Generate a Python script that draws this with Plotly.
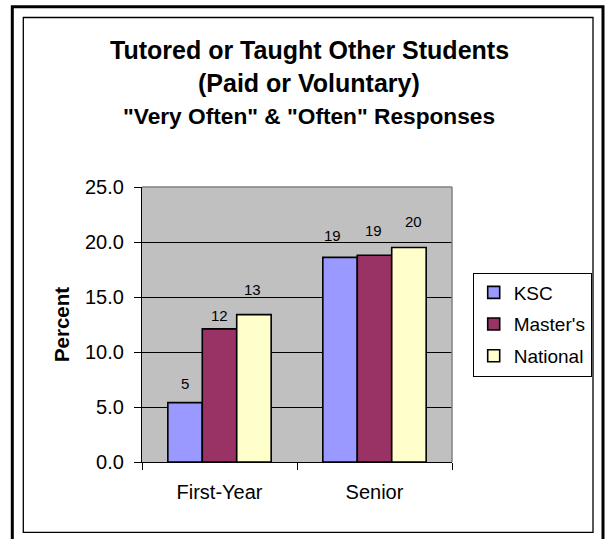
import plotly.graph_objects as go

# ---- data ----
categories = ["First-Year", "Senior"]
series_names = ["KSC", "Master's", "National"]
ksc = [5.4, 18.6]
masters = [12.1, 18.8]
national = [13.4, 19.5]
y_ticks = [0, 5, 10, 15, 20, 25]

# ---- style ----
colors = ["#9999FF", "#993366", "#FFFFCC"]
FONT = "Liberation Sans, Arial, sans-serif"
W, H = 615, 539
ML, MR, MT, MB = 142, 163, 187, 77
PW, PH = W - ML - MR, H - MT - MB
BARGAP = 1 / 3

def px_x(p):
    return (p - ML) / PW

def px_y(p):
    return (H - MB - p) / PH

fig = go.Figure()
for i, (name, vals) in enumerate(zip(series_names, [ksc, masters, national])):
    fig.add_trace(go.Bar(
        x=categories, y=vals, name=name,
        marker=dict(color=colors[i], line=dict(color="black", width=1.6)),
        legendgroup=name,
    ))

# data labels (hand-placed offsets as in the original chart)
label_yshift = [[19, 21.7], [13, 25], [25, 25.6]]
label_xshift = [[-0.4, -7.5], [0.4, -1.3], [-1.8, 4.7]]
bar_px = PW / len(categories) * (1 - BARGAP) / len(series_names)
annotations = []
for i, vals in enumerate([ksc, masters, national]):
    for j, v in enumerate(vals):
        annotations.append(dict(
            x=categories[j], y=v, xref="x", yref="y",
            text=f"{v:.0f}", showarrow=False,
            xshift=(i - 1) * bar_px + label_xshift[i][j],
            yshift=label_yshift[i][j], yanchor="middle",
            font=dict(family=FONT, size=15, color="black"),
        ))

# title lines
title_lines = [("Tutored or Taught Other Students", 25, 50),
               ("(Paid or Voluntary)", 25, 83.5),
               ("\"Very Often\" & \"Often\" Responses", 22.7, 115.5)]
for txt, sz, cy in title_lines:
    annotations.append(dict(
        x=px_x(309), y=px_y(cy), xref="paper", yref="paper",
        text=f"<b>{txt}</b>", showarrow=False, xanchor="center", yanchor="middle",
        font=dict(family=FONT, size=sz, color="black"),
    ))

shapes = [
    # outer thick frame
    dict(type="rect", xref="paper", yref="paper",
         x0=px_x(12.3), x1=px_x(603), y0=px_y(6.7), y1=px_y(548),
         line=dict(color="black", width=3), layer="above"),
    # inner thin frame
    dict(type="rect", xref="paper", yref="paper",
         x0=px_x(23.3), x1=px_x(593), y0=px_y(17.5), y1=px_y(532.3),
         line=dict(color="black", width=1.3), layer="above"),
    # gray top & right edges of plot area
    dict(type="line", xref="paper", yref="paper", x0=0, x1=1, y0=1, y1=1,
         line=dict(color="#808080", width=1.5), layer="above"),
    dict(type="line", xref="paper", yref="paper", x0=1, x1=1, y0=0, y1=1,
         line=dict(color="#808080", width=1.5), layer="above"),
]

fig.update_layout(
    width=W, height=H,
    margin=dict(l=ML, r=MR, t=MT, b=MB, autoexpand=False),
    paper_bgcolor="white", plot_bgcolor="#C0C0C0",
    barmode="group", bargap=BARGAP, bargroupgap=0,
    font=dict(family=FONT, color="black"),
    annotations=annotations, shapes=shapes,
    legend=dict(
        x=px_x(472.7), y=px_y(272.5), xanchor="left", yanchor="top",
        bgcolor="white", bordercolor="black", borderwidth=1,
        font=dict(family=FONT, size=19, color="black"),
        traceorder="grouped", tracegroupgap=4,
    ),
    showlegend=True,
)
fig.update_xaxes(
    type="category", showline=True, linecolor="black", linewidth=1.3,
    ticks="outside", tickson="boundaries", ticklen=7, tickcolor="black",
    tickfont=dict(family=FONT, size=20, color="black"),
    ticklabelstandoff=12, showgrid=False,
)
fig.update_yaxes(
    range=[0, 25], tickvals=y_ticks, tickformat=".1f",
    showline=True, linecolor="black", linewidth=1.3,
    ticks="outside", ticklen=7, tickcolor="black",
    tickfont=dict(family=FONT, size=20, color="black"),
    ticklabelstandoff=6,
    showgrid=True, gridcolor="black", gridwidth=1, zeroline=False,
    title=dict(text="<b>Percent</b>", standoff=9,
               font=dict(family=FONT, size=20.5, color="black")),
)

fig.write_html("out.html", config={"displayModeBar": False},
               post_script="document.body.style.margin='0';")
